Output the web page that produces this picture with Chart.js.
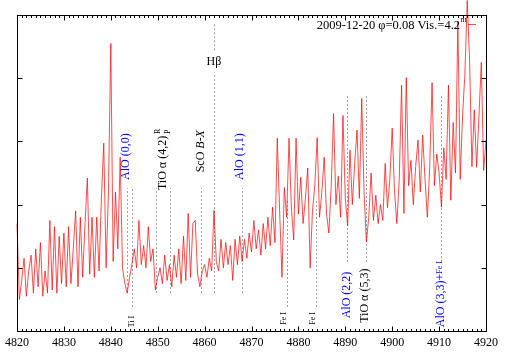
<!DOCTYPE html>
<html>
<head>
<meta charset="utf-8">
<script src="https://cdn.jsdelivr.net/npm/chart.js@4"></script>
<style>
  body { margin: 0; background: #fff; }
  #wrap { width: 509px; height: 356px; position: relative; }
</style>
</head>
<body>
<div id="wrap"><canvas id="chart"></canvas></div>
<script>
// Spectrum sampling grid (Angstrom)
const waveStart = 4820;
const waveStep = 0.5;

// Flux, one value per 0.5 A, one row per 10 A
const flux = [
    1.70, 0.50, 0.80, 1.15, 0.55, 0.95, 1.20, 0.60, 1.30, 0.70, 1.40, 0.55, 0.95, 0.60, 1.75, 0.65, 1.65, 0.60, 1.50, 0.75, // 4820
    1.55, 0.70, 1.65, 0.75, 1.30, 1.90, 0.70, 1.80, 0.85, 1.70, 2.42, 0.90, 1.80, 0.85, 1.80, 0.95, 2.10, 2.97, 1.00, 2.20, // 4830
    4.55, 1.10, 2.20, 1.30, 2.75, 1.00, 0.75, 0.60, 0.85, 1.05, 1.30, 1.00, 1.75, 1.05, 1.35, 1.00, 1.65, 1.10, 1.30, 0.65, // 4840
    0.85, 1.00, 0.75, 1.20, 0.80, 1.05, 0.70, 1.20, 0.85, 1.30, 0.75, 1.50, 0.80, 1.86, 0.85, 1.70, 1.75, 0.90, 0.70, 0.95, // 4850
    1.05, 0.85, 1.15, 0.95, 1.91, 1.10, 0.95, 1.45, 1.00, 1.40, 1.05, 1.35, 0.80, 1.45, 1.05, 1.50, 1.10, 1.45, 1.15, 1.55, // 4860
    1.25, 1.75, 1.30, 1.60, 1.20, 1.70, 1.30, 1.80, 1.35, 1.96, 1.40, 3.05, 1.90, 0.85, 2.27, 1.80, 3.05, 1.95, 1.44, 3.05, // 4870
    1.85, 2.43, 1.70, 2.10, 2.58, 1.00, 1.90, 2.30, 3.06, 1.80, 2.20, 2.75, 1.85, 1.55, 2.30, 3.44, 2.00, 2.45, 1.80, 3.41, // 4880
    2.10, 1.67, 2.86, 2.00, 2.65, 3.18, 2.10, 3.68, 2.20, 1.41, 1.80, 2.50, 1.75, 2.15, 1.70, 2.00, 1.75, 2.65, 1.95, 2.40, // 4890
    3.21, 2.20, 1.70, 2.40, 3.89, 1.86, 4.01, 2.30, 2.70, 2.00, 2.60, 3.02, 2.20, 3.10, 2.40, 1.80, 2.60, 3.93, 2.30, 2.80, // 4900
    2.50, 1.96, 2.90, 2.40, 3.89, 2.07, 3.30, 2.50, 4.90, 2.40, 3.40, 4.07, 5.23, 4.28, 2.60, 3.50, 2.59, 3.40, 4.25, 2.54, 3.02 // 4910
];

// Axis ranges
const xTicks = [4820, 4830, 4840, 4850, 4860, 4870, 4880, 4890, 4900, 4910, 4920];
const yMin = 0;
const yMax = 5;

const keyTitle = '2009-12-20 φ=0.08 Vis.=4.2';

// Identification lines: wavelength, lower and upper end (flux units)
const lineWaves = [4843.4, 4844.5, 4849.7, 4852.6, 4859.2, 4862.0, 4862.0, 4867.9, 4877.6, 4883.8, 4890.3, 4894.4, 4910.3];
const lineFrom  = [0.60, 0.38, 0.60, 0.60, 0.60, 0.60, 4.44, 0.60, 0.38, 0.38, 1.09, 1.09, 1.09];
const lineTo    = [2.26, 2.26, 2.26, 2.26, 2.26, 4.09, 4.88, 2.26, 2.07, 2.07, 3.74, 3.74, 3.74];

// Vertical labels: text, wavelength, start flux
const labelTexts = ['AlO (0,0)', 'TiO α (4,2)', 'ScO B-X', 'AlO (1,1)', 'Ti I', 'Fe I', 'Fe I', 'AlO (2,2)', 'TiO α (5,3)', 'AlO (3,3)+Fe I'];
const labelWaves = [4843.3, 4851.1, 4859.2, 4867.5, 4844.6, 4877.0, 4883.1, 4890.3, 4894.2, 4910.3];
const labelStart = [2.39, 2.23, 2.51, 2.39, 0.06, 0.10, 0.10, 0.20, 0.13, 0.06];

const points = flux.map((f, i) => ({ x: waveStart + i * waveStep, y: f }));

const SERIF = '"Liberation Serif", "DejaVu Serif", serif';
const BLUE = '#0000ff';

// draw one rotated label, built from pieces [text, font, color]
function vtext(ctx, px, py, pieces) {
    ctx.save();
    ctx.translate(px, py);
    ctx.rotate(-Math.PI / 2);
    ctx.textBaseline = 'middle';
    ctx.textAlign = 'left';
    let pos = 0;
    pieces.forEach(p => {
        ctx.font = p[1];
        ctx.fillStyle = p[2];
        ctx.fillText(p[0], pos, p[3] || 0);
        pos += ctx.measureText(p[0]).width;
    });
    ctx.restore();
}

const annotations = {
    id: 'annotations',
    beforeDatasetsDraw(chart) {
        const { ctx, scales: { x, y } } = chart;
        ctx.save();
        ctx.strokeStyle = '#a0a0a0';
        ctx.lineWidth = 1;
        ctx.setLineDash([2, 2]);
        lineWaves.forEach((w, i) => {
            const px = Math.round(x.getPixelForValue(w)) + 0.5;
            ctx.beginPath();
            ctx.moveTo(px, y.getPixelForValue(lineFrom[i]));
            ctx.lineTo(px, y.getPixelForValue(lineTo[i]));
            ctx.stroke();
        });
        ctx.setLineDash([]);

        const big = '12px ' + SERIF;
        const small = '8px ' + SERIF;
        labelTexts.forEach((t, i) => {
            const px = x.getPixelForValue(labelWaves[i]);
            const py = y.getPixelForValue(labelStart[i]);
            let pieces;
            if (t === 'ScO B-X') {
                pieces = [['ScO ', big, '#000'], ['B-X', 'italic ' + big, '#000']];
            } else if (t === 'AlO (3,3)+Fe I') {
                pieces = [['AlO (3,3)+', big, BLUE], ['Fe I', small, BLUE, -1]];
            } else if (t === 'Ti I' || t === 'Fe I') {
                pieces = [[t, small, '#000']];
            } else if (t.startsWith('AlO')) {
                pieces = [[t, big, BLUE]];
            } else {
                pieces = [[t, big, '#000']];
            }
            vtext(ctx, px, py, pieces);
            if (t === 'TiO α (4,2)') {
                ctx.font = big;
                const w = ctx.measureText(t).width;
                vtext(ctx, px - 5, py - w - 2, [['R', '8px ' + SERIF, '#000']]);
                vtext(ctx, px + 5, py - w - 2, [['P', '8px ' + SERIF, '#000']]);
            }
        });

        // H beta, horizontal
        ctx.font = '12px ' + SERIF;
        ctx.fillStyle = '#000';
        ctx.textAlign = 'center';
        ctx.textBaseline = 'middle';
        ctx.fillText('Hβ', x.getPixelForValue(4862.0), y.getPixelForValue(4.26));
        ctx.restore();
    },
    afterDatasetsDraw(chart) {
        const { ctx, chartArea: a, scales: { x, y } } = chart;
        ctx.save();
        ctx.strokeStyle = '#000';
        ctx.lineWidth = 1;
        const l = Math.round(a.left) + 0.5, r = Math.round(a.right) + 0.5;
        const t = Math.round(a.top) + 0.5, b = Math.round(a.bottom) + 0.5;
        ctx.strokeRect(l, t, r - l, b - t);
        ctx.beginPath();
        for (let v = xTicks[0]; v <= xTicks[xTicks.length - 1]; v++) {
            const len = v % 10 === 0 ? 5 : 2.5;
            const px = Math.round(x.getPixelForValue(v)) + 0.5;
            ctx.moveTo(px, b); ctx.lineTo(px, b - len);
            ctx.moveTo(px, t); ctx.lineTo(px, t + len);
        }
        for (let v = yMin + 1; v < yMax; v++) {
            const py = Math.round(y.getPixelForValue(v)) + 0.5;
            ctx.moveTo(l, py); ctx.lineTo(l + 5, py);
            ctx.moveTo(r, py); ctx.lineTo(r - 5, py);
        }
        ctx.stroke();

        // key
        ctx.font = '12.5px ' + SERIF;
        ctx.fillStyle = '#000';
        ctx.textAlign = 'right';
        ctx.textBaseline = 'middle';
        ctx.fillText(keyTitle, 460, 26);
        ctx.font = '8px ' + SERIF;
        ctx.textAlign = 'left';
        ctx.fillText('m', 460.5, 20);
        ctx.strokeStyle = 'rgba(255,0,0,0.7)';
        ctx.beginPath();
        ctx.moveTo(468, 24.5); ctx.lineTo(476, 24.5);
        ctx.stroke();
        ctx.restore();
    }
};

new Chart(document.getElementById('chart'), {
    type: 'line',
    data: {
        datasets: [{
            data: points,
            borderColor: 'rgba(255,0,0,0.7)',
            borderWidth: 1,
            pointRadius: 0,
            tension: 0,
            clip: false
        }]
    },
    options: {
        responsive: true,
        maintainAspectRatio: false,
        animation: false,
        layout: { padding: { top: 15, right: 23, left: 0, bottom: 0 } },
        plugins: { legend: { display: false }, tooltip: { enabled: false } },
        scales: {
            x: {
                type: 'linear',
                min: xTicks[0],
                max: xTicks[xTicks.length - 1],
                grid: { display: false, drawTicks: false },
                border: { display: false },
                ticks: {
                    stepSize: 10,
                    color: '#000',
                    padding: 5,
                    maxRotation: 0,
                    font: { family: SERIF, size: 12 },
                    callback: v => String(v)
                },
                afterFit: s => { s.height = 25; }
            },
            y: {
                min: yMin,
                max: yMax,
                grid: { display: false, drawTicks: false },
                border: { display: false },
                ticks: { display: false },
                afterFit: s => { s.width = 14; }
            }
        }
    },
    plugins: [annotations]
});
</script>
</body>
</html>
